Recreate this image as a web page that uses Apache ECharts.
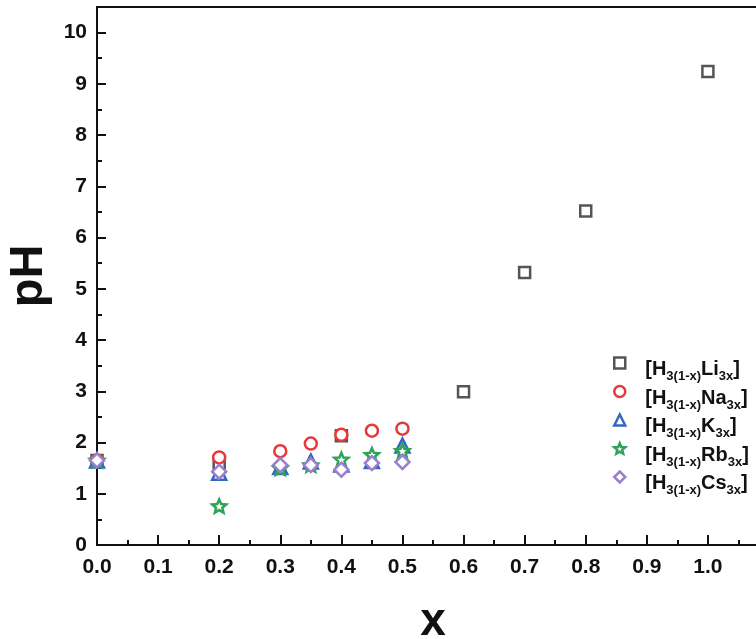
<!DOCTYPE html>
<html><head><meta charset="utf-8">
<script src="https://cdn.jsdelivr.net/npm/echarts@6/dist/echarts.min.js"></script>
<style>html,body{margin:0;padding:0;background:#fff;overflow:hidden}#c{width:756px;height:639px}</style>
</head><body><div id="c"></div>
<script>
const seriesNames = ['Li', 'Na', 'K', 'Rb', 'Cs'];
const liData = [[0, 1.65], [0.2, 1.58], [0.4, 2.13], [0.6, 2.99], [0.7, 5.32], [0.8, 6.52], [1.0, 9.24]];
const naData = [[0, 1.65], [0.2, 1.71], [0.3, 1.83], [0.35, 1.98], [0.4, 2.15], [0.45, 2.23], [0.5, 2.27]];
const kData  = [[0, 1.65], [0.2, 1.41], [0.3, 1.52], [0.35, 1.63], [0.4, 1.57], [0.45, 1.64], [0.5, 1.94]];
const rbData = [[0, 1.65], [0.2, 0.76], [0.3, 1.50], [0.35, 1.56], [0.4, 1.67], [0.45, 1.76], [0.5, 1.84]];
const csData = [[0, 1.65], [0.2, 1.43], [0.3, 1.56], [0.35, 1.56], [0.4, 1.47], [0.45, 1.60], [0.5, 1.62]];
const xTicks = [0, 0.1, 0.2, 0.3, 0.4, 0.5, 0.6, 0.7, 0.8, 0.9, 1.0];
const yTicks = [0, 1, 2, 3, 4, 5, 6, 7, 8, 9, 10];

const starPath = 'path://M50 0 L63.2 31.8 L97.6 34.5 L71.4 57 L79.4 90.5 L50 72.5 L20.6 90.5 L28.6 57 L2.4 34.5 L36.8 31.8 Z';
const styles = [
  {symbol: 'rect', color: '#555555', size: 11},
  {symbol: 'circle', color: '#e8383b', size: 12},
  {symbol: 'triangle', color: '#3567c0', size: 14},
  {symbol: starPath, color: '#2ea35a', size: 14},
  {symbol: 'diamond', color: '#9b7fcf', size: 14}
];
const datasets = [liData, naData, kData, rbData, csData];

const chart = echarts.init(document.getElementById('c'), null, {renderer: 'canvas'});
const FF = 'Liberation Sans, Arial, sans-serif';
const axisFont = {fontFamily: FF, fontWeight: 'bold', fontSize: 21, color: '#111'};
chart.setOption({
  animation: false,
  backgroundColor: '#fff',
  grid: {left: 97, top: 7, right: -13, bottom: 94, show: true, borderColor: '#111', borderWidth: 2,
         containLabel: false, outerBoundsMode: 'none'},
  xAxis: {
    type: 'value', min: 0, max: 1.1, interval: 0.1,
    name: 'x', nameLocation: 'middle', nameGap: 54,
    nameTextStyle: {fontFamily: FF, fontWeight: 'bold', fontSize: 46, color: '#111'},
    axisLine: {onZero: false, lineStyle: {color: '#111', width: 2}},
    axisTick: {inside: true, length: 10, lineStyle: {color: '#111', width: 2}},
    minorTick: {show: true, splitNumber: 2, length: 5, lineStyle: {color: '#111', width: 2}},
    splitLine: {show: false},
    axisLabel: Object.assign({margin: 12, formatter: v => {
      const r = Math.round(v * 10) / 10;
      return (Math.abs(v - r) < 1e-9 && xTicks.some(t => Math.abs(t - r) < 1e-9)) ? r.toFixed(1) : '';
    }}, axisFont)
  },
  yAxis: {
    type: 'value', min: 0, max: 10.5, interval: 1,
    name: 'pH', nameLocation: 'middle', nameGap: 39, nameRotate: 90,
    nameTextStyle: {fontFamily: FF, fontWeight: 'bold', fontSize: 47, color: '#111'},
    axisLine: {onZero: false, lineStyle: {color: '#111', width: 2}},
    axisTick: {inside: true, length: 9, lineStyle: {color: '#111', width: 2}},
    minorTick: {show: true, splitNumber: 2, length: 5, lineStyle: {color: '#111', width: 2}},
    splitLine: {show: false},
    axisLabel: Object.assign({margin: 10, formatter: v => yTicks.includes(v) ? String(v) : ''}, axisFont)
  },
  legend: {
    orient: 'vertical', left: 608, top: 348, itemGap: -1.5, itemWidth: 11, itemHeight: 11,
    data: seriesNames.map((n, i) => ({name: n, icon: styles[i].symbol,
      itemStyle: {color: '#fff', borderColor: styles[i].color, borderWidth: 2.5}})),
    formatter: n => '{p|}{b|[H}{s|3(1-x)}{b|' + n + '}{s|3x}{b|]}',
    textStyle: {
      color: '#111',
      rich: {
        p: {width: 15, lineHeight: 10},
        b: {fontFamily: FF, fontWeight: 'bold', fontSize: 20, color: '#111', lineHeight: 20, padding: [6.5, 0, 0, 0], verticalAlign: 'top'},
        s: {fontFamily: FF, fontWeight: 'bold', fontSize: 13, color: '#111', lineHeight: 13, padding: [17, 0, 0, 0], verticalAlign: 'top'}
      }
    }
  },
  series: datasets.map((d, i) => ({
    name: seriesNames[i], type: 'scatter', data: d,
    symbol: styles[i].symbol, symbolSize: styles[i].size, symbolKeepAspect: true,
    itemStyle: {color: '#fff', borderColor: styles[i].color, borderWidth: 2.5, opacity: 1}
  }))
});
</script></body></html>
